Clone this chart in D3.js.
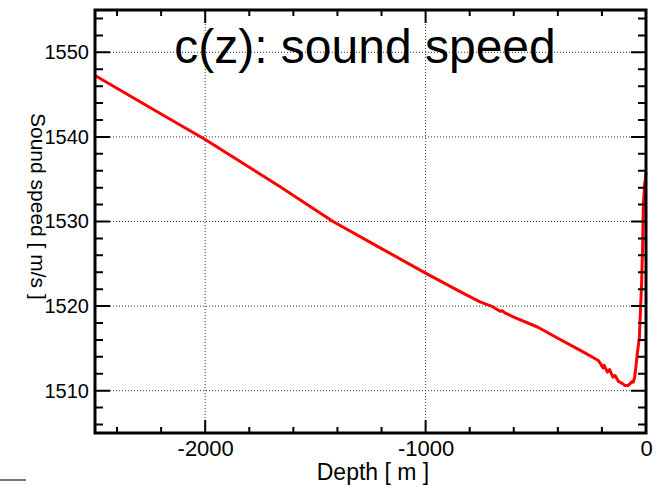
<!DOCTYPE html>
<html>
<head>
<meta charset="utf-8">
<script src="https://cdn.jsdelivr.net/npm/d3@7"></script>
<style>
  body { margin: 0; background: #fff; }
  svg { display: block; }
  text { font-family: "Liberation Sans", Arial, Helvetica, sans-serif; fill: #000; }
</style>
</head>
<body>
<div id="chart"></div>
<script>
// depth [m] and sound speed [m/s]
var depth = [-2500, -2200, -2000, -1800, -1660, -1420, -1200, -1000, -850, -753,
    -694, -662, -653, -640, -600, -490, -400, -300, -218, -209, -195, -190, -175,
    -165, -150, -140, -125, -110, -95, -82, -70, -62, -58, -52, -45, -40, -35, -30,
    -25, -20, -15, -12, -6, -3, 0];
var speed = [1547.25, 1542.7, 1539.7, 1536.4, 1534.1, 1530.0, 1526.8, 1523.9, 1521.8, 1520.5,
    1519.9, 1519.4, 1519.45, 1519.2, 1518.7, 1517.5, 1516.2, 1514.8, 1513.6, 1513.3, 1512.7, 1513.0, 1512.2,
    1512.5, 1511.6, 1511.8, 1511.1, 1510.9, 1510.6, 1510.6, 1510.9, 1511.1, 1511.0, 1511.5, 1513.0, 1514.3, 1515.3, 1516.3,
    1519.5, 1522.6, 1527.5, 1532.0, 1534.5, 1534.9, 1535.8];

var xMajor = [-2000, -1000, 0];
var xMinor = [-2400, -2200, -1800, -1600, -1400, -1200, -800, -600, -400, -200];
var yMajor = [1510, 1520, 1530, 1540, 1550];
var yMinor = [1506, 1508, 1512, 1514, 1516, 1518, 1522, 1524, 1526, 1528, 1532, 1534, 1536, 1538, 1542, 1544, 1546, 1548, 1552, 1554];

var titleText = "c(z): sound speed";
var xTitle = "Depth [ m ]";
var yTitle = "Sound speed [ m/s ]";

var width = 657, height = 485;
var margin = {top: 10, right: 11, bottom: 52, left: 95};

var svg = d3.select("#chart").append("svg")
    .attr("width", width)
    .attr("height", height);

var x = d3.scaleLinear()
    .domain([-2500, 0])
    .range([margin.left, width - margin.right]);

var y = d3.scaleLinear()
    .domain([1505, 1555])
    .range([height - margin.bottom, margin.top]);

var x0 = x.range()[0], x1 = x.range()[1];
var y0 = y.range()[0], y1 = y.range()[1];

// dotted grid at the major ticks
svg.append("g").selectAll("line")
    .data(xMajor.filter(function(d) { return d > -2500 && d < 0; }))
    .enter().append("line")
    .attr("x1", function(d) { return x(d); })
    .attr("x2", function(d) { return x(d); })
    .attr("y1", y0).attr("y2", y1)
    .attr("stroke", "#333").attr("stroke-width", 1).attr("stroke-dasharray", "1,2");

svg.append("g").selectAll("line")
    .data(yMajor)
    .enter().append("line")
    .attr("x1", x0).attr("x2", x1)
    .attr("y1", function(d) { return y(d); })
    .attr("y2", function(d) { return y(d); })
    .attr("stroke", "#333").attr("stroke-width", 1).attr("stroke-dasharray", "1,2");

// the profile
var line = d3.line()
    .x(function(d, i) { return x(depth[i]); })
    .y(function(d, i) { return y(speed[i]); });

svg.append("path")
    .datum(depth)
    .attr("d", line)
    .attr("fill", "none")
    .attr("stroke", "#ff0000")
    .attr("stroke-width", 3)
    .attr("stroke-linejoin", "round");

// tick marks, pointing inward on all four sides (one path per set)
function tickPath(vals, len, horiz) {
    var d = "";
    vals.forEach(function(v) {
        if (horiz) {
            d += "M" + x0 + "," + y(v) + "h" + len + "M" + x1 + "," + y(v) + "h" + (-len);
        } else {
            d += "M" + x(v) + "," + y0 + "v" + (-len) + "M" + x(v) + "," + y1 + "v" + len;
        }
    });
    svg.append("path")
        .attr("d", d)
        .style("fill", "none")
        .style("stroke", "#000")
        .style("stroke-width", "2px");
}
tickPath(yMajor, 15, true);
tickPath(yMinor, 8, true);
tickPath(xMajor, 13, false);
tickPath(xMinor, 6, false);

// tick labels via d3 axes
function plain(d) { return String(d); }

var yAxis = svg.append("g")
    .attr("transform", "translate(" + x0 + ",0)")
    .call(d3.axisLeft(y).tickValues(yMajor).tickSize(0).tickPadding(6).tickFormat(plain));
yAxis.select(".domain").remove();
yAxis.selectAll("text").style("font-size", "20px").attr("font-family", null);

var xAxis = svg.append("g")
    .attr("transform", "translate(0," + y0 + ")")
    .call(d3.axisBottom(x).tickValues(xMajor).tickSize(0).tickPadding(7).tickFormat(plain));
xAxis.select(".domain").remove();
xAxis.selectAll("text").style("font-size", "22px").attr("font-family", null);

// frame
svg.append("rect")
    .attr("x", x0).attr("y", y1)
    .attr("width", x1 - x0).attr("height", y0 - y1)
    .style("fill", "none").style("stroke", "#000").style("stroke-width", "3px");

// titles
svg.append("text")
    .attr("x", 365).attr("y", 63)
    .attr("text-anchor", "middle")
    .style("font-size", "48px")
    .text(titleText);

svg.append("text")
    .attr("x", 373).attr("y", 480)
    .attr("text-anchor", "middle")
    .style("font-size", "23px")
    .text(xTitle);

svg.append("text")
    .attr("transform", "translate(31,113) rotate(90)")
    .style("font-size", "21px")
    .text(yTitle);

// small grey stub bottom left
svg.append("line")
    .attr("x1", 0).attr("x2", 26)
    .attr("y1", 480).attr("y2", 480)
    .attr("stroke", "#777").attr("stroke-width", 2);
</script>
</body>
</html>
